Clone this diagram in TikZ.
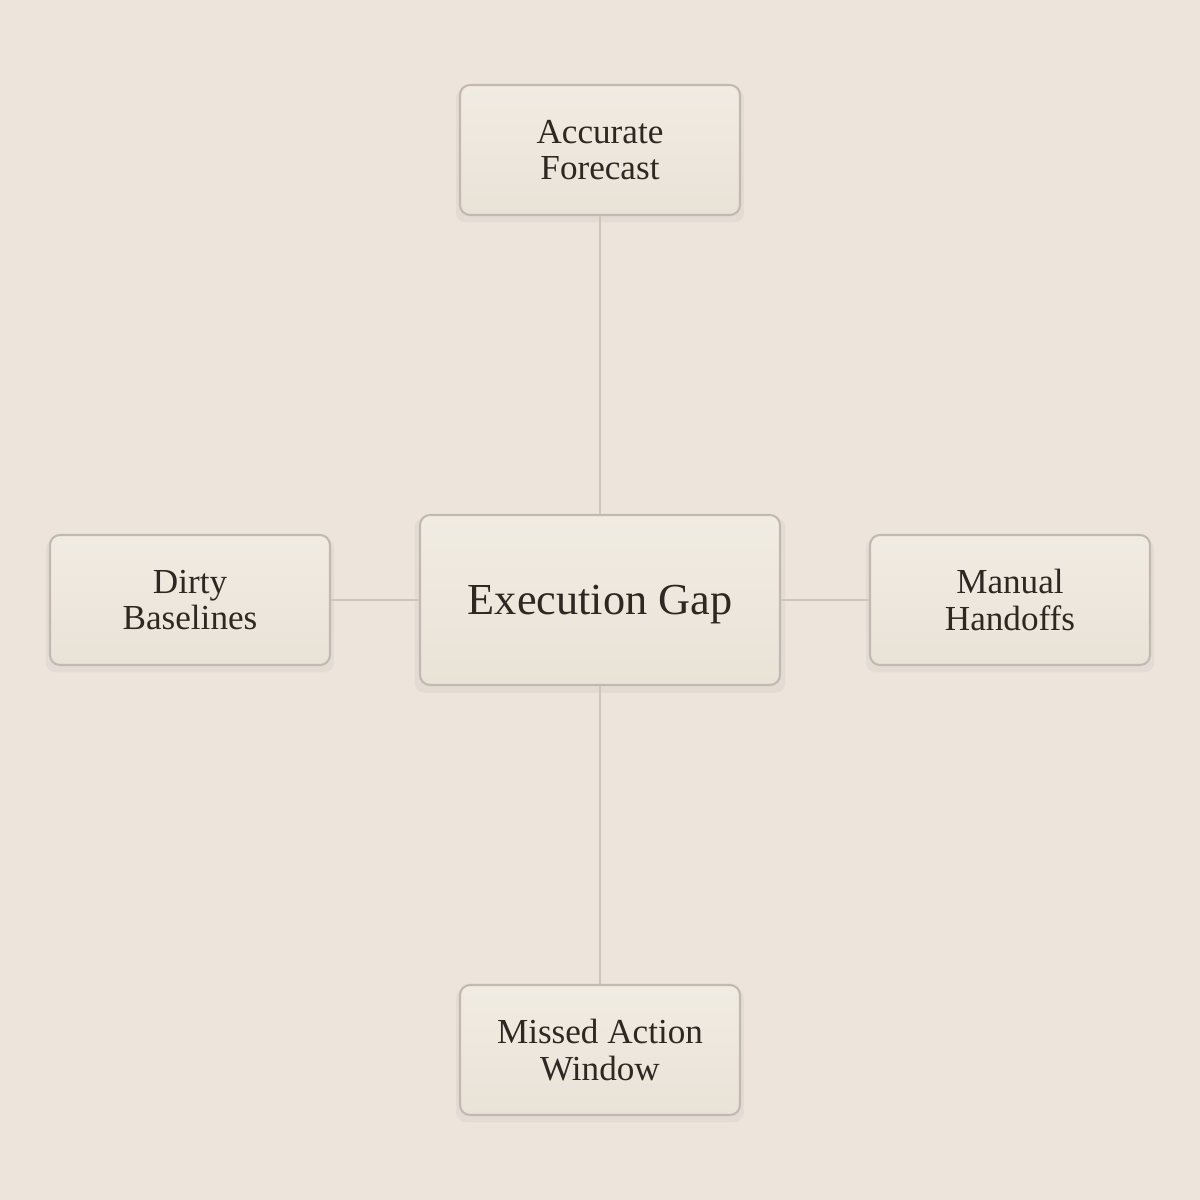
\documentclass[tikz,border=0pt]{standalone}
\usepackage{fontspec}
\setmainfont{Liberation Serif}
\usetikzlibrary{shadows}
\definecolor{paper}{HTML}{EDE5DC}
\definecolor{boxlight}{HTML}{F1ECE3}
\definecolor{boxdark}{HTML}{E9E2D7}
\definecolor{boxline}{HTML}{C2BAB0}
\definecolor{linkline}{HTML}{CEC6BC}
\definecolor{ink}{HTML}{2E2823}
\begin{document}
\begin{tikzpicture}[
  box/.style={draw=boxline, line width=0.6pt, rounded corners=0.1cm,
    top color=boxlight, bottom color=boxdark, text=ink, align=center,
    inner sep=0pt, minimum width=2.8cm, minimum height=1.3cm,
    font=\fontsize{10}{10.4}\selectfont,
    drop shadow={shadow xshift=0pt, shadow yshift=-1.5pt, shadow scale=1.03,
      opacity=0.035, fill=black}},
  hub/.style={box, minimum width=3.6cm, minimum height=1.7cm,
    text depth=0pt, font=\fontsize{12.6}{14}\selectfont},
  link/.style={draw=linkline, line width=0.45pt}]
\fill[paper] (0,0) rectangle (12,-12);
\useasboundingbox (0,0) rectangle (12,-12);
\node[hub] (P_0_0) at (6,-6) {Execution Gap};
\node[box] (P_0_1) at (6,-1.5) {Accurate\\Forecast};
\draw[link] (P_0_0) -- (P_0_1);
\node[box] (P_-1_0) at (1.9,-6) {Dirty\\Baselines};
\draw[link] (P_0_0) -- (P_-1_0);
\node[box] (P_1_0) at (10.1,-6) {Manual\\Handoffs};
\draw[link] (P_0_0) -- (P_1_0);
\node[box] (P_0_-1) at (6,-10.5) {Missed Action\\Window};
\draw[link] (P_0_0) -- (P_0_-1);
\end{tikzpicture}
\end{document}
